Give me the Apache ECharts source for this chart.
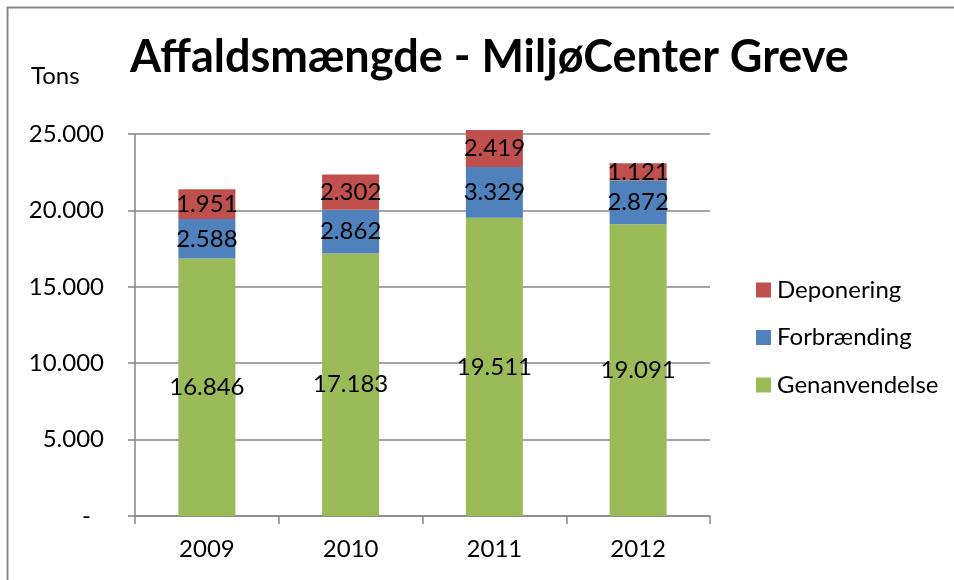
<!DOCTYPE html>
<html><head><meta charset="utf-8">
<script src="https://cdn.jsdelivr.net/npm/echarts@6/dist/echarts.min.js"></script>
<style>html,body{margin:0;padding:0;background:#fff}#c{width:954px;height:580px}</style>
</head><body><div id="c"></div>
<script>
const categories = ['2009','2010','2011','2012'];
const genanvendelse = [16846, 17183, 19511, 19091];
const forbraending = [2588, 2862, 3329, 2872];
const deponering = [1951, 2302, 2419, 1121];
const yTicks = [0, 5000, 10000, 15000, 20000, 25000];

const FONT = 'Lato';
const FS = 24;
function fmt(v){ return String(Math.round(v)).replace(/\B(?=(\d{3})+(?!\d))/g,'.'); }

const chart = echarts.init(document.getElementById('c'), null, {renderer:'canvas'});
const labelCfg = {show:true, position:'inside', color:'#000', fontFamily:FONT, fontSize:FS, formatter:p=>fmt(p.value)};
chart.setOption({
  animation:false,
  textStyle:{fontFamily:FONT},
  graphic:[{type:'rect', shape:{x:7.5,y:7.5,width:960,height:600}, style:{fill:'none', stroke:'#888', lineWidth:2}, z:-1}],
  title:{text:'Affaldsmængde - MiljøCenter Greve', left:125, top:30, textStyle:{fontFamily:FONT, fontSize:45, fontWeight:'bold', color:'#000'}},
  grid:{left:135, right:244, top:134, bottom:64, containLabel:false},
  legend:{orient:'vertical', left:751, top:273, itemWidth:15, itemHeight:15, itemGap:23.5, icon:'rect',
    data:['Deponering','Forbrænding','Genanvendelse'],
    textStyle:{fontFamily:FONT, fontSize:FS, lineHeight:24, color:'#000', padding:[0,0,0,1]}},
  xAxis:{type:'category', data:categories,
    axisLine:{lineStyle:{color:'#868686', width:1.5}},
    axisTick:{show:true, length:8, lineStyle:{color:'#868686', width:1.5}},
    axisLabel:{color:'#000', fontFamily:FONT, fontSize:FS, margin:21}},
  yAxis:{type:'value', min:yTicks[0], max:yTicks[yTicks.length-1], interval:5000, name:'Tons',
    nameLocation:'end', nameGap:0,
    nameTextStyle:{fontFamily:FONT, fontSize:FS, color:'#000', align:'left', padding:[0,0,46,-104]},
    axisLine:{show:true, lineStyle:{color:'#868686', width:1.5}},
    axisTick:{show:true, length:7, lineStyle:{color:'#868686', width:1.5}},
    splitLine:{lineStyle:{color:'#868686', width:1.5}},
    axisLabel:{color:'#000', fontFamily:FONT, fontSize:FS, margin:31,
      formatter:v=> v===0 ? '{d|-}' : fmt(v),
      rich:{d:{fontFamily:FONT, fontSize:FS, color:'#000', padding:[0,13,0,0]}}}},
  series:[
    {name:'Genanvendelse', type:'bar', stack:'a', barWidth:57, clip:false, data:genanvendelse, itemStyle:{color:'#9BBB59'}, label:labelCfg},
    {name:'Forbrænding', type:'bar', stack:'a', barWidth:57, clip:false, data:forbraending, itemStyle:{color:'#4F81BD'}, label:labelCfg},
    {name:'Deponering', type:'bar', stack:'a', barWidth:57, clip:false, data:deponering, itemStyle:{color:'#C0504D'}, label:labelCfg}
  ]
});
</script></body></html>
